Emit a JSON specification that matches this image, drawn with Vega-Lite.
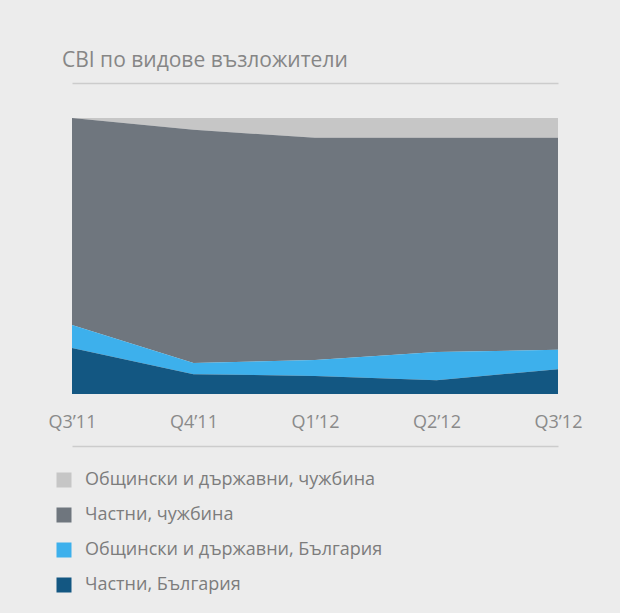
{
  "$schema": "https://vega.github.io/schema/vega-lite/v6.json",
  "autosize": {"type": "none"},
  "width": 486,
  "height": 276,
  "padding": {"left": 72, "top": 118, "right": 62, "bottom": 219},
  "background": "#ececec",
  "title": {
    "text": "СВI по видове възложители",
    "anchor": "start",
    "frame": "group",
    "dx": -10,
    "offset": 12,
    "font": "Open Sans",
    "fontSize": 21,
    "fontWeight": "normal",
    "color": "#868686"
  },
  "config": {
    "view": {"stroke": null},
    "font": "Open Sans"
  },
  "data": {
    "values": [
      {"q": "Q3’11", "series": "Общински и държавни, чужбина", "ord": 4, "v": 0},
      {"q": "Q4’11", "series": "Общински и държавни, чужбина", "ord": 4, "v": 4.3},
      {"q": "Q1’12", "series": "Общински и държавни, чужбина", "ord": 4, "v": 7.2},
      {"q": "Q2’12", "series": "Общински и държавни, чужбина", "ord": 4, "v": 7.2},
      {"q": "Q3’12", "series": "Общински и държавни, чужбина", "ord": 4, "v": 7.2},
      {"q": "Q3’11", "series": "Частни, чужбина", "ord": 3, "v": 75},
      {"q": "Q4’11", "series": "Частни, чужбина", "ord": 3, "v": 84.5},
      {"q": "Q1’12", "series": "Частни, чужбина", "ord": 3, "v": 80.5},
      {"q": "Q2’12", "series": "Частни, чужбина", "ord": 3, "v": 77.6},
      {"q": "Q3’12", "series": "Частни, чужбина", "ord": 3, "v": 76.8},
      {"q": "Q3’11", "series": "Общински и държавни, България", "ord": 2, "v": 8.3},
      {"q": "Q4’11", "series": "Общински и държавни, България", "ord": 2, "v": 4.0},
      {"q": "Q1’12", "series": "Общински и държавни, България", "ord": 2, "v": 5.8},
      {"q": "Q2’12", "series": "Общински и държавни, България", "ord": 2, "v": 10.2},
      {"q": "Q3’12", "series": "Общински и държавни, България", "ord": 2, "v": 7.0},
      {"q": "Q3’11", "series": "Частни, България", "ord": 1, "v": 16.7},
      {"q": "Q4’11", "series": "Частни, България", "ord": 1, "v": 7.2},
      {"q": "Q1’12", "series": "Частни, България", "ord": 1, "v": 6.5},
      {"q": "Q2’12", "series": "Частни, България", "ord": 1, "v": 5.0},
      {"q": "Q3’12", "series": "Частни, България", "ord": 1, "v": 9.0}
    ]
  },
  "layer": [
    {
      "mark": {"type": "area", "interpolate": "linear"},
      "encoding": {
        "x": {
          "field": "q",
          "type": "ordinal",
          "sort": null,
          "scale": {"type": "point", "padding": 0},
          "axis": {
            "orient": "bottom",
            "title": null,
            "offset": 52,
            "ticks": false,
            "tickSize": 0,
            "labelPadding": -33,
            "labelAngle": 0,
            "labelFontSize": 18,
            "labelColor": "#8a8a8a",
            "labelFont": "Open Sans",
            "domainColor": "#cccccc",
            "domainWidth": 1.5,
            "grid": false
          }
        },
        "y": {
          "field": "v",
          "type": "quantitative",
          "stack": "zero",
          "scale": {"domain": [0, 100], "nice": false},
          "axis": null
        },
        "color": {
          "field": "series",
          "type": "nominal",
          "scale": {
            "domain": ["Общински и държавни, чужбина", "Частни, чужбина", "Общински и държавни, България", "Частни, България"],
            "range": ["#c6c6c6", "#6f767e", "#3db0ec", "#135782"]
          },
          "legend": {
            "orient": "none",
            "legendX": -17,
            "legendY": 353,
            "title": null,
            "symbolType": "square",
            "symbolSize": 225,
            "symbolStrokeWidth": 0,
            "symbolOpacity": 1,
            "labelFontSize": 18,
            "labelFont": "Open Sans",
            "labelColor": "#7c7c7c",
            "labelOffset": 12,
            "labelLimit": 0,
            "rowPadding": 17
          }
        },
        "order": {"field": "ord", "type": "quantitative"}
      }
    },
    {
      "mark": {"type": "rule", "opacity": 0},
      "encoding": {
        "x": {
          "field": "q",
          "type": "ordinal",
          "sort": null,
          "scale": {"type": "point", "padding": 0},
          "axis": {
            "orient": "top",
            "title": null,
            "offset": 35,
            "labels": false,
            "ticks": false,
            "domainColor": "#cccccc",
            "domainWidth": 1.5,
            "grid": false
          }
        }
      }
    }
  ],
  "resolve": {"axis": {"x": "independent"}}
}
